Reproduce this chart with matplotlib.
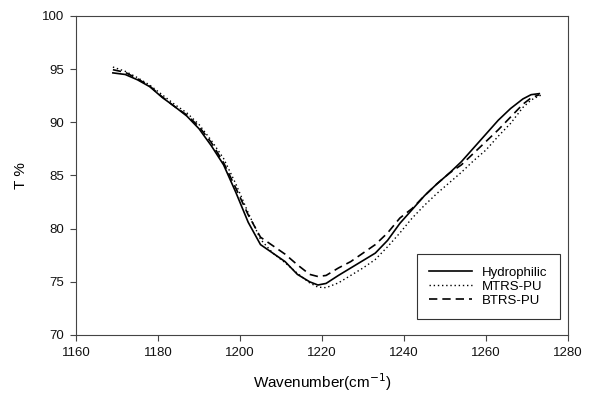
import matplotlib

matplotlib.use("Agg")

import matplotlib.pyplot as plt

plt.rcParams["font.family"] = ["Liberation Sans", "DejaVu Sans"]

# wavenumber grid (cm-1)
x_hydro = [1169, 1172, 1175, 1178, 1181, 1184, 1187, 1190, 1193, 1196, 1199, 1202,
           1205, 1208, 1211, 1214, 1217, 1219, 1221, 1224, 1227, 1230, 1233, 1236,
           1239, 1242, 1245, 1248, 1251, 1254, 1257, 1260, 1263, 1266, 1269, 1271, 1273]
t_hydro = [94.65, 94.5, 94.0, 93.35, 92.35, 91.5, 90.6, 89.4, 87.8, 86.0, 83.4, 80.6,
           78.5, 77.7, 76.9, 75.7, 75.0, 74.7, 74.85, 75.6, 76.3, 77.0, 77.7, 78.9,
           80.5, 81.8, 83.1, 84.2, 85.2, 86.3, 87.6, 88.9, 90.2, 91.3, 92.2, 92.6, 92.7]

x_mtrs = [1169, 1172, 1175, 1178, 1181, 1184, 1187, 1190, 1193, 1196, 1199, 1202,
          1205, 1208, 1211, 1214, 1217, 1219, 1221, 1224, 1227, 1230, 1233, 1236,
          1239, 1242, 1245, 1248, 1251, 1254, 1257, 1260, 1263, 1266, 1269, 1271, 1273, 1274]
t_mtrs = [95.2, 94.8, 94.2, 93.5, 92.6, 91.7, 90.9, 89.8, 88.3, 86.6, 84.2, 81.5,
          79.0, 77.7, 76.8, 75.8, 74.9, 74.5, 74.45, 74.9, 75.6, 76.3, 77.1, 78.3,
          79.6, 81.0, 82.2, 83.3, 84.3, 85.3, 86.4, 87.4, 88.7, 89.9, 91.4, 92.1, 92.5, 92.6]

x_btrs = x_hydro
t_btrs = [94.95, 94.7, 94.1, 93.4, 92.4, 91.5, 90.7, 89.6, 88.1, 86.2, 83.8, 81.3,
          79.2, 78.4, 77.6, 76.6, 75.7, 75.5, 75.6, 76.3, 76.9, 77.7, 78.5, 79.6,
          81.0, 81.9, 83.1, 84.2, 85.2, 86.0, 87.1, 88.2, 89.3, 90.5, 91.7, 92.3, 92.6]

fig = plt.figure(figsize=(5.9, 3.93), dpi=100)
ax = fig.add_axes([0.1288, 0.1476, 0.8339, 0.8117])

ax.plot(x_hydro, t_hydro, color="black", linewidth=1.2, linestyle="-", label="Hydrophilic")
ax.plot(x_mtrs, t_mtrs, color="black", linewidth=1.0, linestyle=(0, (1, 2)), label="MTRS-PU")
ax.plot(x_btrs, t_btrs, color="black", linewidth=1.2, linestyle=(0, (5, 3)), label="BTRS-PU")

ax.set_xlim(1160, 1280)
ax.set_ylim(70, 100)
ax.set_xticks(range(1160, 1281, 20))
ax.set_yticks(range(70, 101, 5))
ax.tick_params(direction="out", length=4.5, width=0.8, pad=4, labelsize=9.5,
               colors="#444444", labelcolor="#111111", top=False, right=False)
for spine in ax.spines.values():
    spine.set_linewidth(0.8)
    spine.set_color("#444444")

ax.set_xlabel("Wavenumber(cm$^{-1}$)", fontsize=11, labelpad=9)
ax.set_ylabel("T %", fontsize=11, labelpad=10)

leg = ax.legend(loc="lower right", bbox_to_anchor=(0.984, 0.05), borderaxespad=0,
                fontsize=9.5, frameon=True, fancybox=False, edgecolor="#333333",
                framealpha=1, handlelength=3.2, borderpad=0.95, labelspacing=0.12,
                handletextpad=0.8)
leg.get_frame().set_linewidth(0.8)

fig.savefig("out.png", dpi=100)
